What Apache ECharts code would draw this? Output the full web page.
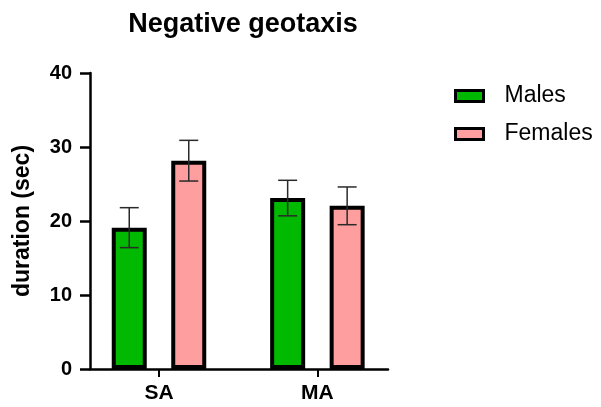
<!DOCTYPE html>
<html>
<head>
<meta charset="utf-8">
<script src="https://cdn.jsdelivr.net/npm/echarts@6/dist/echarts.min.js"></script>
<style>
  html, body { margin: 0; padding: 0; background: #fff; }
  #chart { width: 601px; height: 407px; }
</style>
</head>
<body>
<div id="chart"></div>
<script>
// Negative geotaxis: mean climbing duration with error bars
const groups = ['SA', 'MA'];
const males = [19.1, 23.1];
const maleErr = [2.7, 2.4];
const females = [28.15, 22.05];
const femaleErr = [2.75, 2.55];
const yTicks = [0, 10, 20, 30, 40];

const FONT = '"Liberation Sans", Arial, Helvetica, sans-serif';
const BAR_W = 35;
const BAR_GAP = 0.7;
const CAP_W = 19;
const groupIdx = groups.map((g, i) => i);

// horizontal shift of each series' bar from its group centre
const barShift = (BAR_W + BAR_W * BAR_GAP) / 2;

function errorSeries(name, means, errs, dir) {
  return {
    type: 'custom',
    name: name + ' SEM',
    z: 10,
    silent: true,
    data: groupIdx.map(i => [i, means[i], errs[i]]),
    renderItem(params, api) {
      const x = api.value(0), m = api.value(1), e = api.value(2);
      const top = api.coord([x, m + e]);
      const bot = api.coord([x, m - e]);
      const cx = top[0] + dir * barShift;
      const style = { stroke: '#2a2a2a', lineWidth: 1.5 };
      return {
        type: 'group',
        children: [
          { type: 'line', shape: { x1: cx, y1: top[1], x2: cx, y2: bot[1] }, style },
          { type: 'line', shape: { x1: cx - CAP_W / 2, y1: top[1], x2: cx + CAP_W / 2, y2: top[1] }, style },
          { type: 'line', shape: { x1: cx - CAP_W / 2, y1: bot[1], x2: cx + CAP_W / 2, y2: bot[1] }, style }
        ]
      };
    }
  };
}

function barSeries(name, values, color) {
  return {
    type: 'bar',
    name,
    barWidth: BAR_W,
    barGap: (BAR_GAP * 100) + '%',
    data: groupIdx.map(i => [i, values[i]]),
    itemStyle: { color, borderColor: '#000', borderWidth: 4 }
  };
}

const chart = echarts.init(document.getElementById('chart'), null, { renderer: 'canvas' });
chart.setOption({
  animation: false,
  backgroundColor: '#fff',
  textStyle: { fontFamily: FONT },
  title: {
    text: 'Negative geotaxis',
    left: 238,
    top: 6,
    textAlign: 'center',
    textStyle: { fontFamily: FONT, fontWeight: 'bold', fontSize: 27, color: '#000' }
  },
  legend: {
    data: ['Males', 'Females'],
    orient: 'vertical',
    left: 449,
    top: 79,
    itemWidth: 28,
    itemHeight: 11,
    itemGap: 14,
    icon: 'rect',
    itemStyle: { borderColor: '#000', borderWidth: 3 },
    textStyle: { fontFamily: FONT, fontSize: 23, color: '#000', lineHeight: 24, padding: [0, 0, 0, 16] }
  },
  grid: { left: 90, right: 213, top: 73, bottom: 38 },
  xAxis: {
    type: 'value',
    min: -0.4356,
    max: 1.4457,
    axisLine: { show: true, onZero: false, lineStyle: { color: '#000', width: 2.5 } },
    axisTick: { show: true, customValues: groupIdx, length: 8, lineStyle: { color: '#000', width: 2 } },
    axisLabel: {
      customValues: groupIdx,
      formatter: v => groups[Math.round(v)],
      fontFamily: FONT, fontWeight: 'bold', fontSize: 21, color: '#000', margin: 14
    },
    splitLine: { show: false }
  },
  yAxis: {
    type: 'value',
    min: 0,
    max: 40,
    interval: 10,
    name: 'duration (sec)',
    nameLocation: 'middle',
    nameRotate: 90,
    nameGap: 56,
    nameTextStyle: { fontFamily: FONT, fontWeight: 'bold', fontSize: 23, color: '#000' },
    axisLine: { show: true, onZero: false, lineStyle: { color: '#000', width: 2.5 } },
    axisTick: { show: true, length: 10, lineStyle: { color: '#000', width: 2.5 } },
    axisLabel: {
      customValues: yTicks,
      fontFamily: FONT, fontWeight: 'bold', fontSize: 20, color: '#000', margin: 18
    },
    splitLine: { show: false }
  },
  series: [
    barSeries('Males', males, '#00b900'),
    barSeries('Females', females, '#ff9e9e'),
    errorSeries('Males', males, maleErr, -1),
    errorSeries('Females', females, femaleErr, 1)
  ]
});
</script>
</body>
</html>
